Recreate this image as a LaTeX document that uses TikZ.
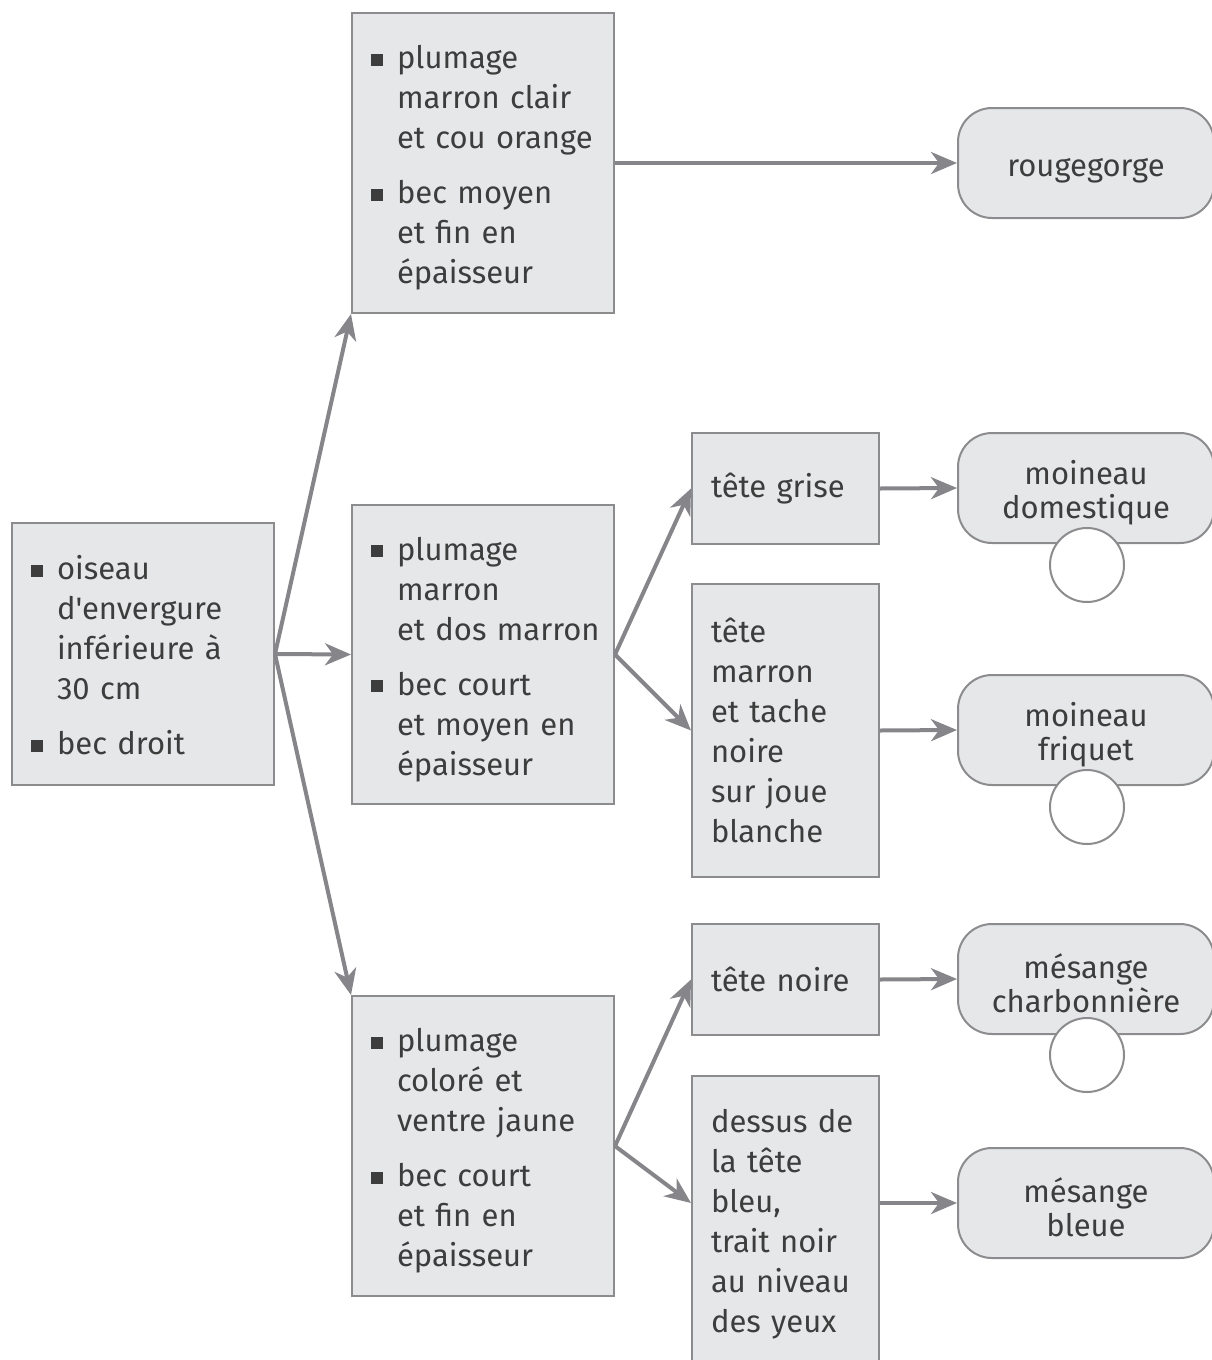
\documentclass[tikz,border=0pt]{standalone}
\usepackage{fontspec}
\setmainfont{Fira Sans}[Ligatures=TeXOff]
\usetikzlibrary{arrows.meta}
\definecolor{boxfill}{HTML}{E6E7E8}
\definecolor{boxline}{HTML}{8C8C8F}
\definecolor{arrowgray}{HTML}{86868A}
\definecolor{txt}{HTML}{3D3D3D}
\newcommand{\puce}{\textcolor{txt}{\rule[3pt]{12pt}{12pt}}}
\newcommand{\haut}{\rule{0pt}{38pt}}
\newcommand{\hautD}{\rule{0pt}{33pt}}
\begin{document}
\begin{tikzpicture}[x=1pt, y=-1pt,
  every node/.style = {draw=boxline, line width=2pt, fill=boxfill,
    text=txt, font=\fontsize{31}{40}\selectfont},
  critere/.style = {rectangle, anchor=north west, align=left,
    inner xsep=19pt, inner ysep=0pt},
  oiseau/.style = {rectangle, rounded corners=34pt, anchor=north west,
    align=center, minimum width=256pt, minimum height=110pt,
    font=\fontsize{31}{34}\selectfont},
  marque/.style = {circle, fill=white, minimum size=74pt, inner sep=0pt},
  fleche/.style = {-{Stealth[length=26pt, width=22pt, inset=8pt]},
    draw=arrowgray, line width=4pt}
  ]
  \useasboundingbox (0,0) rectangle (1211,1360);

  % colonne 1
  \node[critere, text width=224pt, minimum height=262pt] (A) at (11,522)
    {\begin{tabular}{@{}p{12pt}@{\hspace{14pt}}l@{}}
      \puce & \haut oiseau\\ & d'envergure\\ & inférieure à\\ & 30 cm\\[15pt]
      \puce & bec droit
    \end{tabular}};

  % colonne 2
  \node[critere, text width=224pt, minimum height=300pt] (B1) at (351,12)
    {\begin{tabular}{@{}p{12pt}@{\hspace{14pt}}l@{}}
      \puce & \haut plumage\\ & marron clair\\ & et cou orange\\[15pt]
      \puce & bec moyen\\ & et fin en\\ & épaisseur
    \end{tabular}};
  \node[critere, text width=224pt, minimum height=299pt] (B2) at (351,504)
    {\begin{tabular}{@{}p{12pt}@{\hspace{14pt}}l@{}}
      \puce & \haut plumage\\ & marron\\ & et dos marron\\[15pt]
      \puce & bec court\\ & et moyen en\\ & épaisseur
    \end{tabular}};
  \node[critere, text width=224pt, minimum height=300pt] (B3) at (351,995)
    {\begin{tabular}{@{}p{12pt}@{\hspace{14pt}}l@{}}
      \puce & \haut plumage\\ & coloré et\\ & ventre jaune\\[15pt]
      \puce & bec court\\ & et fin en\\ & épaisseur
    \end{tabular}};

  % colonne 3
  \node[critere, text width=149pt, minimum height=111pt] (C1) at (691,432)
    {tête grise};
  \node[critere, text width=149pt, minimum height=293pt] (C2) at (691,583)
    {tête\\marron\\et tache\\noire\\sur joue\\blanche};
  \node[critere, text width=149pt, minimum height=111pt] (C3) at (691,923)
    {tête noire};
  \node[critere, text width=149pt, minimum height=297pt] (C4) at (691,1075)
    {dessus de\\la tête\\bleu,\\trait noir\\au niveau\\des yeux};

  % colonne 4
  \node[oiseau] (D1) at (957,107) {\hautD rougegorge};
  \node[oiseau] (D2) at (957,432) {\hautD moineau\\domestique};
  \node[oiseau] (D3) at (957,674) {\hautD moineau\\friquet};
  \node[oiseau] (D4) at (957,923) {\hautD mésange\\charbonnière};
  \node[oiseau] (D5) at (957,1147) {\hautD mésange\\bleue};

  \node[marque] (m2) at (1087,565) {};
  \node[marque] (m3) at (1087,807) {};
  \node[marque] (m4) at (1087,1055) {};

  % fleches
  \draw[fleche] (A.east) -- (B1.south west);
  \draw[fleche] (A.east) -- (B2.west);
  \draw[fleche] (A.east) -- (B3.north west);
  \draw[fleche] (B1.east) -- (D1.west);
  \draw[fleche] (B2.east) -- (C1.west);
  \draw[fleche] (B2.east) -- (C2.west);
  \draw[fleche] (B3.east) -- (C3.west);
  \draw[fleche] (B3.east) -- (C4.west |- D5.west);
  \draw[fleche] (C1.east) -- (D2.west);
  \draw[fleche] (C2.east) -- (D3.west);
  \draw[fleche] (C3.east) -- (D4.west);
  \draw[fleche] (C4.east |- D5.west) -- (D5.west);
\end{tikzpicture}
\end{document}
